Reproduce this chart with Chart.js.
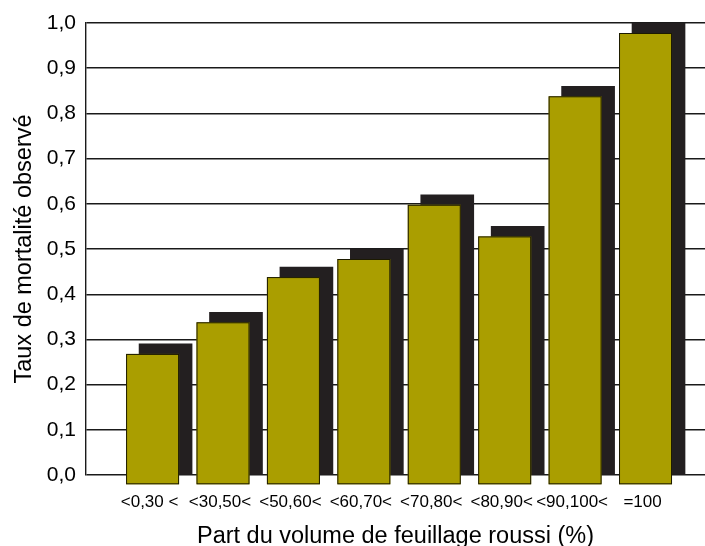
<!DOCTYPE html>
<html>
<head>
<meta charset="utf-8">
<script src="https://cdn.jsdelivr.net/npm/chart.js@4/dist/chart.umd.min.js"></script>
<style>
  html, body { margin: 0; padding: 0; background: #fff; }
  #wrap { width: 705px; height: 546px; }
</style>
</head>
<body>
<div id="wrap"><canvas id="c" width="705" height="546"></canvas></div>
<script>
// Burnt-foliage share classes and observed mortality rate
const categories = ['<0,30 <', '<30,50<', '<50,60<', '<60,70<', '<70,80<', '<80,90<', '<90,100<', '=100'];
const mortality = [0.29, 0.36, 0.46, 0.50, 0.62, 0.55, 0.86, 1.00];
const yTicks = [0, 0.1, 0.2, 0.3, 0.4, 0.5, 0.6, 0.7, 0.8, 0.9, 1.0];

const FONT = '"Liberation Sans", Arial, Helvetica, sans-serif';
const FACE = '#aa9e00';
const DEPTH = '#231f20';
const DX = 13, DY = 10;

// Bars are drawn as the dark back face at the true value; the olive front face
// is painted shifted left and down to give the extruded look.
const frontFaces = {
  id: 'frontFaces',
  afterDatasetsDraw(chart) {
    const ctx = chart.ctx;
    const meta = chart.getDatasetMeta(0);
    ctx.save();
    meta.data.forEach(el => {
      const p = el.getProps(['x', 'y', 'base', 'width'], true);
      const left = p.x - p.width / 2 - DX;
      const top = p.y + DY;
      const h = p.base - p.y;
      ctx.fillStyle = FACE;
      ctx.fillRect(left, top, p.width, h);
      ctx.strokeStyle = '#1c1a00';
      ctx.lineWidth = 1;
      ctx.strokeRect(left + 0.5, top + 0.5, p.width - 1, h - 1);
    });
    ctx.restore();
  }
};

new Chart(document.getElementById('c'), {
  type: 'bar',
  data: {
    datasets: [{
      data: mortality.map((v, i) => ({ x: i, y: v })),
      backgroundColor: DEPTH,
      borderWidth: 0,
      barThickness: 53
    }]
  },
  options: {
    responsive: false,
    animation: false,
    events: [],
    layout: { padding: { top: 23, right: 0, bottom: 0, left: 0 } },
    plugins: { legend: { display: false }, tooltip: { enabled: false } },
    scales: {
      x: {
        type: 'linear',
        offset: false,
        min: -1.13,
        max: 7.66,
        afterFit(scale) { scale.height = 71; },
        afterBuildTicks(scale) { scale.ticks = categories.map((c, i) => ({ value: i })); },
        grid: { display: false },
        border: { display: false },
        ticks: {
          autoSkip: false,
          maxRotation: 0,
          padding: 9,
          labelOffset: -DX - 3,
          color: '#000',
          font: { family: FONT, size: 17 },
          callback: (v) => categories[v]
        },
        title: {
          display: true,
          text: 'Part du volume de feuillage roussi (%)',
          color: '#000',
          font: { family: FONT, size: 23.5 },
          padding: { top: 0, bottom: -5 }
        }
      },
      y: {
        min: 0,
        max: 1,
        afterFit(scale) { scale.width = 86; },
        afterBuildTicks(scale) { scale.ticks = yTicks.map(v => ({ value: v })); },
        grid: { color: '#1a1a1a', lineWidth: 1.4, drawTicks: false },
        border: { display: true, color: '#1a1a1a', width: 1.4 },
        ticks: {
          padding: 10,
          color: '#000',
          font: { family: FONT, size: 21 },
          callback: (v) => v.toFixed(1).replace('.', ',')
        },
        title: {
          display: true,
          text: 'Taux de mortalité observé',
          color: '#000',
          font: { family: FONT, size: 23.5 },
          padding: { top: 10, bottom: 0 }
        }
      }
    }
  },
  plugins: [frontFaces]
});
</script>
</body>
</html>
